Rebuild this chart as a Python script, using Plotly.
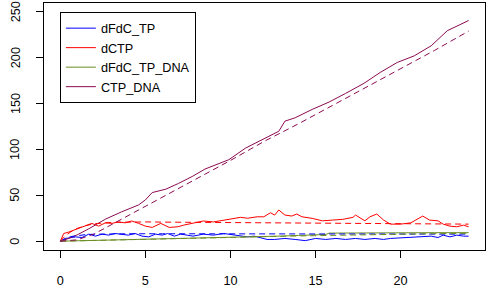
import plotly.graph_objects as go

# ---- data ----
t_blue = [0, 0.3, 0.9, 1.27, 1.67, 2.06, 2.45, 2.84, 3.2, 3.6, 4.0, 4.4, 4.8, 5.2, 5.6, 6.0, 6.3, 6.7,
          7.06, 7.45, 7.8, 8.4, 9.0, 9.6, 10.2, 10.6, 11.0, 11.4, 11.76, 12.15, 12.6, 13.2, 13.8, 14.4,
          15.0, 15.6, 16.2, 16.76, 17.35, 17.9, 18.5, 19.0, 19.4, 20.2, 21.0, 21.8, 22.2, 22.5, 22.9,
          23.3, 23.7, 24.0]
dFdC_TP = [0, 3, 4.7, 4, 7.7, 5.5, 7.7, 6.6, 8.4, 7.7, 6.6, 8.4, 5.5, 4.7, 7.7, 6.6, 8.4, 5.5,
           7.7, 6.6, 5.5, 7.7, 6.6, 8.4, 6.6, 5.5, 4.7, 5.5, 4, 1.9, 1.9, 3, 1.9, 0.6,
           3, 1.9, 3, 1.9, 3, 1.9, 3, 1.9, 3, 4, 4.7, 5.5, 4, 6.6, 4.7,
           6.6, 5.5, 5.5]

t_red = [0, 0.2, 0.5, 0.9, 1.27, 1.67, 1.85, 2.25, 2.65, 3.04, 3.4, 3.8, 4.2, 4.6, 5.0, 5.4, 5.9,
         6.4, 6.9, 7.25, 7.8, 8.4, 9.0, 9.6, 10.2, 10.6, 11.0, 11.57, 11.96, 12.35, 12.6, 12.84, 13.2,
         13.6, 13.9, 14.2, 14.8, 15.4, 16.0, 16.6, 17.2, 17.35, 17.9, 18.2, 18.6, 19.0, 19.4, 20.0,
         20.6, 21.0, 21.3, 21.7, 22.2, 22.5, 22.9, 23.3, 23.7, 24.0]
dCTP = [0, 8.4, 10, 12.8, 15.7, 18.6, 19.4, 16.4, 20, 19.4, 21, 20, 22, 19.4, 16.4, 15, 19.4,
        15, 15.7, 17.5, 19.4, 22, 21, 23, 25, 26, 25, 26.6, 26.6, 31, 28.5, 34, 28.5,
        27.4, 29.6, 26.6, 24.9, 22.2, 23, 23.8, 26, 28.5, 22.2, 26.6, 29.6, 23, 18.6, 18.6,
        20, 23.8, 27.4, 23, 22.2, 18.6, 16.4, 15.7, 17.5, 15.7]

t_green = [0, 1, 2, 3, 4, 5, 6, 7, 8, 9, 10, 11, 12, 13, 14, 15, 15.6, 15.8, 17, 18, 20, 22, 24]
dFdC_TP_DNA = [0, 0.4, 0.8, 1.2, 1.5, 1.8, 2.1, 2.4, 2.8, 3.2, 3.8, 4.3, 4.9, 5.6, 6.3, 7, 7.3,
               8.8, 9, 9.1, 9.2, 9.3, 9.3]

t_maroon = [0, 0.5, 1.0, 1.67, 2.65, 3.6, 4.6, 5.0, 5.4, 6.2, 6.95, 7.75, 8.5, 9.9, 10.9, 11.86,
            12.84, 13.2, 13.8, 14.8, 15.8, 16.76, 17.84, 18.8, 19.8, 20.8, 21.8, 22.75, 24.0]
CTP_DNA = [0, 3, 7, 13.5, 24, 32, 39.5, 45, 53, 56.7, 63, 70.5, 78.6, 88.8, 101.6, 110.7,
           119.8, 130.8, 134.5, 143.6, 151.7, 161, 172, 183.9, 194.8, 202, 213, 229.5, 240.5]

# dashed (deterministic) curves
t_blue_d = [0, 0.3, 0.6, 1, 1.5, 2, 3, 4, 6, 8, 10, 12, 14, 16, 18, 20, 22, 24]
dFdC_TP_d = [0, 3, 5, 6.3, 7.2, 7.6, 8, 8.1, 8.1, 8, 8, 7.9, 7.9, 7.8, 7.8, 7.8, 7.7, 7.7]
t_red_d = [0, 0.3, 0.6, 1, 1.5, 2, 3, 4, 5, 6, 8, 10, 12, 14, 16, 18, 20, 22, 24]
dCTP_d = [0, 6, 10, 14, 17, 19, 20.5, 21, 21, 20.8, 20.5, 20.3, 20, 20, 19.8, 19.6, 19.3, 19, 18.6]
t_green_d = [0, 2, 4, 6, 8, 10, 12, 14, 16, 18, 20, 22, 24]
dFdC_TP_DNA_d = [0, 0.7, 1.5, 2.3, 3.2, 4.1, 4.9, 5.7, 6.5, 7.1, 7.7, 8.2, 8.6]
t_maroon_d = [0, 1, 2, 3, 4, 5, 6, 8, 10, 12, 14, 16, 18, 20, 22, 24]
CTP_DNA_d = [0, 1.5, 8, 18, 28, 38, 48, 68, 88, 109, 128, 148, 168, 188, 208, 229]

x_ticks = [0, 5, 10, 15, 20]
y_ticks = [0, 50, 100, 150, 200, 250]

names = ["dFdC_TP", "dCTP", "dFdC_TP_DNA", "CTP_DNA"]
colors = ["#0000FF", "#FF0000", "#6B8E23", "#8B0A50"]
solid = [(t_blue, dFdC_TP), (t_red, dCTP), (t_green, dFdC_TP_DNA), (t_maroon, CTP_DNA)]
dashed = [(t_blue_d, dFdC_TP_d), (t_red_d, dCTP_d), (t_green_d, dFdC_TP_DNA_d), (t_maroon_d, CTP_DNA_d)]

fig = go.Figure()
for (tx, ty), name, c in zip(solid, names, colors):
    fig.add_trace(go.Scatter(x=tx, y=ty, mode="lines", name=name,
                             line=dict(color=c, width=1)))
for (tx, ty), name, c in zip(dashed, names, colors):
    fig.add_trace(go.Scatter(x=tx, y=ty, mode="lines", name=name + " (model)", showlegend=False,
                             line=dict(color=c, width=1, dash="6px,4px")))

font = dict(family="Liberation Sans, Arial, sans-serif", size=12.7, color="black")
fig.update_layout(
    width=489, height=288,
    margin=dict(l=44, r=4, t=3, b=38, autoexpand=False),
    paper_bgcolor="white", plot_bgcolor="white",
    font=font,
    showlegend=True,
    legend=dict(x=0.036, y=0.962, xanchor="left", yanchor="top",
                bordercolor="black", borderwidth=1, bgcolor="white",
                font=font, itemwidth=30, traceorder="normal"),
)
fig.update_xaxes(range=[-0.96, 24.96], tickvals=x_ticks, ticks="outside", ticklen=7,
                 tickcolor="black", showgrid=False, zeroline=False, showline=True,
                 linecolor="black", linewidth=1, mirror=True, ticklabelstandoff=12,
                 automargin=False, ticklabeloverflow="allow")
fig.update_yaxes(range=[-9.6, 259.6], tickvals=y_ticks, ticks="outside", ticklen=7,
                 tickcolor="black", showgrid=False, zeroline=False, showline=True,
                 linecolor="black", linewidth=1, mirror=True, showticklabels=False,
                 automargin=False)

# rotated y tick labels (R style, las=0), placed at the tick values
for v in y_ticks:
    fig.add_annotation(x=-0.0646, xref="paper", y=v, yref="y", text=str(v), textangle=-90,
                       showarrow=False, xanchor="center", yanchor="middle", font=font)

fig.write_html("out.html", config={"displayModeBar": False},
               post_script="document.body.style.margin='0';document.body.style.overflow='hidden';")
